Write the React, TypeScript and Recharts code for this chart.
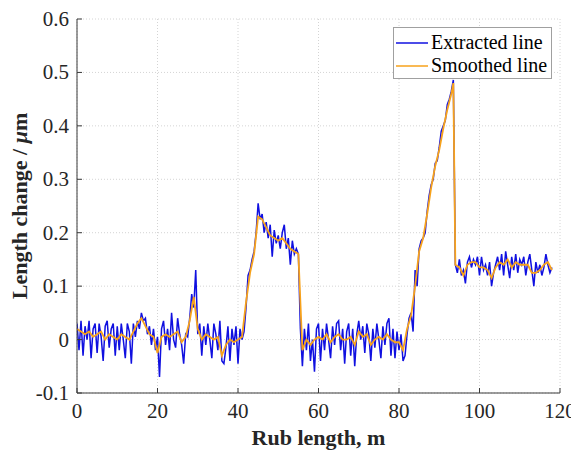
import { LineChart, Line, XAxis, YAxis, CartesianGrid, Legend } from "recharts";

// extracted line, one value every 0.5 m starting at 0 m
const extractedStep = 0.5;
const extractedValues = [
  0.03, -0.02, 0.035, -0.03, 0.025, 0.0, 0.035, -0.035, 0.02, 0.03, -0.025, 0.03, 0.005, -0.04, 0.025, 0.035, -0.015, 0.02, 0.03, -0.03,
  0.025, -0.02, 0.03, 0.0, -0.035, 0.03, 0.015, -0.045, 0.03, 0.005, 0.035, 0.02, 0.05, 0.035, 0.04, 0.01, 0.025, -0.01, 0.02, -0.02,
  0.005, -0.07, 0.02, 0.035, -0.01, 0.02, -0.02, 0.05, 0.0, -0.015, 0.04, 0.01, -0.01, -0.045, 0.01, 0.005, 0.04, 0.085, 0.06, 0.13,
  0.01, 0.03, -0.03, 0.025, -0.01, 0.03, 0.0, -0.035, 0.03, 0.01, -0.02, 0.035, -0.04, -0.045, -0.015, 0.025, -0.04, 0.02, -0.01, 0.025,
  -0.045, 0.02, 0.0, 0.015, 0.06, 0.12, 0.13, 0.15, 0.165, 0.2, 0.255, 0.225, 0.235, 0.2, 0.22, 0.19, 0.215, 0.155, 0.205, 0.18,
  0.195, 0.17, 0.2, 0.215, 0.17, 0.19, 0.14, 0.185, 0.16, 0.17, 0.16, 0.02, -0.05, 0.02, -0.02, 0.03, -0.04, 0.0, -0.06, 0.02,
  0.03, -0.04, 0.02, -0.02, 0.03, 0.0, -0.035, 0.025, -0.01, 0.03, 0.035, -0.02, 0.02, -0.045, 0.015, 0.03, -0.03, 0.02, -0.05, 0.01,
  0.035, 0.0, 0.025, -0.025, 0.03, 0.01, -0.04, 0.02, -0.015, 0.03, 0.0, -0.035, 0.025, -0.01, 0.03, 0.04, -0.03, 0.02, -0.035, 0.015,
  -0.02, 0.01, -0.04, -0.03, 0.01, 0.04, 0.05, 0.015, 0.13, 0.1, 0.17, 0.185, 0.19, 0.2, 0.24, 0.27, 0.29, 0.3, 0.33, 0.335,
  0.36, 0.39, 0.4, 0.41, 0.44, 0.45, 0.465, 0.486, 0.14, 0.125, 0.15, 0.12, 0.13, 0.105, 0.145, 0.155, 0.135, 0.15, 0.14, 0.155,
  0.12, 0.155, 0.13, 0.14, 0.12, 0.145, 0.1, 0.125, 0.14, 0.155, 0.13, 0.16, 0.12, 0.165, 0.14, 0.115, 0.155, 0.13, 0.16, 0.125,
  0.15, 0.14, 0.155, 0.12, 0.145, 0.16, 0.13, 0.1, 0.145, 0.125, 0.14, 0.12, 0.135, 0.16, 0.14, 0.125, 0.135,
];

// smoothed line, one value per metre, plus the peak just before the drop
const smoothedValues = [
  0.02, 0.015, 0.01, 0.015, 0.005, 0.01, 0.015, 0.0, 0.01, 0.005,
  0.0, 0.01, 0.005, 0.0, 0.015, 0.03, 0.04, 0.025, 0.01, 0.005,
  -0.025, 0.005, 0.01, 0.005, 0.01, 0.015, -0.005, 0.005, 0.035, 0.08,
  0.02, 0.0, 0.01, 0.005, 0.0, 0.005, -0.03, -0.01, 0.0, -0.005,
  0.0, 0.005, 0.07, 0.125, 0.16, 0.23, 0.225, 0.21, 0.195, 0.19,
  0.185, 0.19, 0.18, 0.17, 0.165, 0.16, -0.02, 0.0, -0.01, 0.0,
  0.005, 0.0, 0.01, -0.005, 0.005, 0.01, 0.0, 0.0, 0.005, -0.01,
  0.015, 0.005, 0.01, -0.01, 0.0, 0.005, 0.0, 0.01, 0.0, -0.005,
  -0.005, -0.02, 0.02, 0.045, 0.1, 0.165, 0.19, 0.235, 0.285, 0.325,
  0.355, 0.395, 0.43, 0.46, 0.14, 0.135, 0.12, 0.14, 0.145, 0.145,
  0.135, 0.135, 0.13, 0.115, 0.135, 0.145, 0.14, 0.15, 0.135, 0.145,
  0.14, 0.14, 0.14, 0.125, 0.125, 0.13, 0.14, 0.145, 0.13,
];
const smoothedExtraX = [93.5];
const smoothedExtraY = [0.48];

const xTicks = [0, 20, 40, 60, 80, 100, 120];
const yTicks = [-0.1, 0, 0.1, 0.2, 0.3, 0.4, 0.5, 0.6];

const extractedData = extractedValues.map((y, i) => ({ x: i * extractedStep, y }));
const smoothedData = [
  ...smoothedValues.map((y, i) => ({ x: i, y })),
  ...smoothedExtraX.map((x, i) => ({ x, y: smoothedExtraY[i] })),
].sort((a, b) => a.x - b.x);

const FONT = "'Liberation Serif', 'Times New Roman', serif";
const AXIS = "#3a3a3a";
const TICK_LEN = 5;
const tickText = { fontFamily: FONT, fontSize: 21, fill: "#262626" };
const labelText = { fontFamily: FONT, fontSize: 22, fontWeight: "bold" as const, fill: "#262626" };

const BottomTick = ({ x, y, payload }: any) => (
  <g>
    <line x1={x} y1={y} x2={x} y2={y - TICK_LEN} stroke={AXIS} />
    <text x={x} y={y + 25} textAnchor="middle" style={tickText}>
      {payload.value}
    </text>
  </g>
);

const TopTick = ({ x, y }: any) => <line x1={x} y1={y} x2={x} y2={y + TICK_LEN} stroke={AXIS} />;

const LeftTick = ({ x, y, payload }: any) => (
  <g>
    <line x1={x} y1={y} x2={x + TICK_LEN} y2={y} stroke={AXIS} />
    <text x={x - 8} y={y + 7} textAnchor="end" style={tickText}>
      {payload.value}
    </text>
  </g>
);

const RightTick = ({ x, y }: any) => <line x1={x} y1={y} x2={x - TICK_LEN} y2={y} stroke={AXIS} />;

const YLabel = ({ viewBox }: any) => {
  const cx = viewBox.x + 19;
  const cy = viewBox.y + viewBox.height / 2;
  return (
    <text x={cx} y={cy} transform={`rotate(-90, ${cx}, ${cy})`} textAnchor="middle" style={labelText}>
      Length change / <tspan style={{ fontStyle: "italic" }}>μ</tspan>m
    </text>
  );
};

const XLabel = ({ viewBox }: any) => (
  <text x={viewBox.x + viewBox.width / 2} y={viewBox.y + 52} textAnchor="middle" style={labelText}>
    Rub length, m
  </text>
);

const renderLegend = (props: any) => {
  const { payload } = props;
  return (
    <div
      style={{
        width: 159,
        height: 52,
        boxSizing: "border-box",
        border: "1px solid #a0a0a0",
        background: "#fff",
        padding: "3px 0 0 2px",
        fontFamily: FONT,
      }}
    >
      {payload.map((entry: any) => (
        <div key={entry.value} style={{ display: "flex", alignItems: "center", height: 23 }}>
          <svg width={32} height={4} style={{ marginRight: 3 }}>
            <line x1={0} y1={2} x2={32} y2={2} stroke={entry.color} strokeWidth={1.5} />
          </svg>
          <span style={{ fontSize: 20, color: "#000", lineHeight: "23px" }}>{entry.value}</span>
        </div>
      ))}
    </div>
  );
};

const App = () => {
  return (
    <div style={{ width: 571, height: 448, fontFamily: FONT }}>
      <LineChart width={571} height={448} margin={{ top: 11, right: 19, bottom: 23, left: 0 }} style={{ fontFamily: FONT }}>
        <CartesianGrid stroke="#d4d4d4" strokeDasharray="1 2" />
        <XAxis
          type="number"
          dataKey="x"
          domain={[0, 120]}
          ticks={xTicks}
          height={40}
          tickSize={0}
          tickMargin={0}
          tickLine={false}
          axisLine={{ stroke: AXIS }}
          tick={<BottomTick />}
          label={<XLabel />}
          allowDataOverflow
        />
        <XAxis
          xAxisId="top"
          orientation="top"
          type="number"
          domain={[0, 120]}
          ticks={xTicks}
          height={0}
          tickSize={0}
          tickMargin={0}
          tickLine={false}
          axisLine={{ stroke: AXIS }}
          tick={<TopTick />}
          allowDataOverflow
        />
        <YAxis
          type="number"
          domain={[-0.1, 0.6]}
          ticks={yTicks}
          width={69}
          tickSize={0}
          tickMargin={0}
          tickLine={false}
          axisLine={{ stroke: AXIS }}
          tick={<LeftTick />}
          label={<YLabel />}
          allowDataOverflow
        />
        <YAxis
          yAxisId="right"
          orientation="right"
          type="number"
          domain={[-0.1, 0.6]}
          ticks={yTicks}
          width={0}
          tickSize={0}
          tickMargin={0}
          tickLine={false}
          axisLine={{ stroke: AXIS }}
          tick={<RightTick />}
          allowDataOverflow
        />
        <Line
          data={extractedData}
          dataKey="y"
          name="Extracted line"
          type="linear"
          stroke="#1010e0"
          strokeWidth={1.5}
          dot={false}
          isAnimationActive={false}
        />
        <Line
          data={smoothedData}
          dataKey="y"
          name="Smoothed line"
          type="linear"
          stroke="#f7a21b"
          strokeWidth={1.8}
          dot={false}
          isAnimationActive={false}
        />
        <Legend
          layout="vertical"
          align="center"
          verticalAlign="middle"
          content={renderLegend}
          wrapperStyle={{ top: 19, left: 385, width: 159, height: 52 }}
        />
      </LineChart>
    </div>
  );
};

export default App;
